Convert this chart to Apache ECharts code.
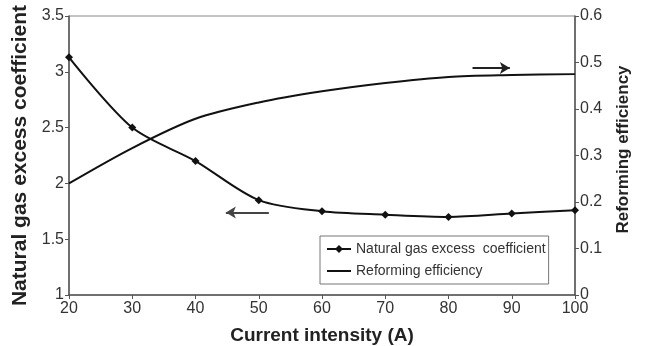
<!DOCTYPE html>
<html>
<head>
<meta charset="utf-8">
<script src="https://cdn.jsdelivr.net/npm/echarts@6/dist/echarts.min.js"></script>
<style>
    html, body { margin: 0; padding: 0; background: #fff; }
    #chart { width: 648px; height: 346px; }
</style>
</head>
<body>
<div id="chart"></div>
<script>
// 电流强度 (A)
const currents = [20, 30, 40, 50, 60, 70, 80, 90, 100];
// 天然气过量系数 (左轴)
const excessCoef = [3.13, 2.5, 2.2, 1.85, 1.75, 1.72, 1.7, 1.73, 1.76];
// 重整效率 (右轴)
const reformEff = [0.24, 0.316, 0.379, 0.414, 0.438, 0.456, 0.469, 0.473, 0.475];

// 指示箭头 (数据坐标)
const leftArrow = [[51.6, 1.74], [44.8, 1.74]];
const rightArrow = [[83.8, 0.488], [89.7, 0.488]];

const font = "'Liberation Sans', Arial, sans-serif";
const axisColor = "#555";
const textColor = "#333";

const pairs = (xs, ys) => xs.map((x, i) => [x, ys[i]]);

const chart = echarts.init(document.getElementById("chart"), null, { renderer: "canvas" });

const option = {
    backgroundColor: "#fff",
    animation: false,
    textStyle: { fontFamily: font },
    grid: {
        left: 69, right: 73, top: 16, bottom: 51,
        outerBoundsMode: "none",
        containLabel: false,
        show: true, borderColor: "#888", borderWidth: 1
    },
    legend: {
        orient: "vertical",
        left: 320, top: 236,
        padding: [6, 3, 6, 6],
        itemGap: 8,
        itemWidth: 24, itemHeight: 10,
        borderColor: "#777", borderWidth: 1,
        textStyle: { fontSize: 14, color: textColor, fontFamily: font },
        data: [
            { name: "Natural gas excess  coefficient" },
            // 只画线，不画点
            { name: "Reforming efficiency", itemStyle: { color: "rgba(0,0,0,0)", borderWidth: 0, opacity: 0 } }
        ]
    },
    xAxis: {
        type: "value",
        min: 20, max: 100, interval: 10,
        name: "Current intensity (A)",
        nameLocation: "middle",
        nameGap: 31,
        nameTextStyle: { fontSize: 19, fontWeight: "bold", color: "#222", fontFamily: font },
        axisLine: { lineStyle: { color: axisColor, width: 1.5 } },
        axisTick: { length: 4, lineStyle: { color: axisColor } },
        axisLabel: { fontSize: 16, color: textColor, margin: 6 },
        splitLine: { show: false }
    },
    yAxis: [
        {
            type: "value",
            min: 1, max: 3.5, interval: 0.5,
            name: "Natural gas excess coefficient",
            nameLocation: "middle",
            nameGap: 35,
            nameTextStyle: { fontSize: 21, fontWeight: "bold", color: "#222", fontFamily: font },
            axisLine: { show: true, lineStyle: { color: axisColor, width: 1.5 } },
            axisTick: { show: true, length: 4, lineStyle: { color: axisColor } },
            axisLabel: { fontSize: 16, color: textColor, margin: 5 },
            splitLine: { show: false }
        },
        {
            type: "value",
            min: 0, max: 0.6, interval: 0.1,
            position: "right",
            name: "Reforming efficiency",
            nameLocation: "middle",
            nameGap: 40,
            nameTextStyle: {
                fontSize: 17, fontWeight: "bold", color: "#222", fontFamily: font,
                padding: [0, 0, 0, 12]
            },
            axisLine: { show: true, lineStyle: { color: axisColor, width: 1.5 } },
            axisTick: { show: true, length: 4, lineStyle: { color: axisColor } },
            axisLabel: { fontSize: 16, color: textColor, margin: 5 },
            splitLine: { show: false }
        }
    ],
    series: [
        {
            name: "Natural gas excess  coefficient",
            type: "line",
            yAxisIndex: 0,
            data: pairs(currents, excessCoef),
            smooth: 0.3,
            symbol: "diamond",
            symbolSize: 8,
            itemStyle: { color: "#111" },
            lineStyle: { color: "#111", width: 2 },
            markLine: {
                silent: true,
                symbol: ["none", "arrow"],
                symbolSize: [9, 10],
                label: { show: false },
                lineStyle: { color: "#444", width: 2, type: "solid" },
                data: [[{ coord: leftArrow[0] }, { coord: leftArrow[1] }]]
            }
        },
        {
            name: "Reforming efficiency",
            type: "line",
            yAxisIndex: 1,
            data: pairs(currents, reformEff),
            smooth: 0.3,
            symbol: "none",
            itemStyle: { color: "#111" },
            lineStyle: { color: "#111", width: 2 },
            markLine: {
                silent: true,
                symbol: ["none", "arrow"],
                symbolSize: [9, 10],
                label: { show: false },
                lineStyle: { color: "#222", width: 2, type: "solid" },
                data: [[{ coord: rightArrow[0] }, { coord: rightArrow[1] }]]
            }
        }
    ]
};

chart.setOption(option);
</script>
</body>
</html>
